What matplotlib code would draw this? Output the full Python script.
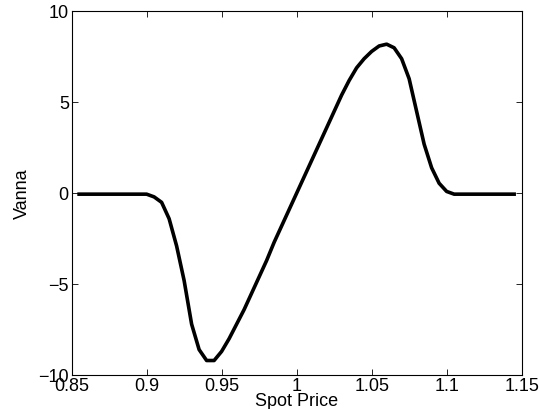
import matplotlib
matplotlib.use("Agg")
import matplotlib.pyplot as plt
from matplotlib.ticker import FuncFormatter

spot = [0.855, 0.86, 0.865, 0.87, 0.875, 0.88, 0.885, 0.89, 0.895, 0.90,
        0.905, 0.91, 0.915, 0.92, 0.925, 0.93, 0.935, 0.94, 0.945, 0.95,
        0.955, 0.96, 0.965, 0.97, 0.975, 0.98, 0.985, 0.99, 0.995, 1.00,
        1.005, 1.01, 1.015, 1.02, 1.025, 1.03, 1.035, 1.04, 1.045, 1.05,
        1.055, 1.06, 1.065, 1.07, 1.075, 1.08, 1.085, 1.09, 1.095, 1.10,
        1.105, 1.11, 1.115, 1.12, 1.125, 1.13, 1.135, 1.14, 1.145]
vanna = [-0.05, -0.05, -0.05, -0.05, -0.05, -0.05, -0.05, -0.05, -0.05, -0.05,
         -0.2, -0.5, -1.4, -2.9, -4.8, -7.2, -8.6, -9.2, -9.2, -8.7,
         -8.0, -7.2, -6.4, -5.5, -4.6, -3.7, -2.7, -1.8, -0.9, 0.0,
         0.9, 1.8, 2.7, 3.6, 4.5, 5.4, 6.2, 6.9, 7.4, 7.8,
         8.1, 8.2, 8.0, 7.4, 6.3, 4.5, 2.7, 1.4, 0.55, 0.1,
         -0.05, -0.05, -0.05, -0.05, -0.05, -0.05, -0.05, -0.05, -0.05]

xticks = [0.85, 0.9, 0.95, 1.0, 1.05, 1.1, 1.15]
yticks = [-10, -5, 0, 5, 10]

plt.rcParams['font.family'] = ['Liberation Sans', 'DejaVu Sans']
plt.rcParams['font.size'] = 13

fig = plt.figure(figsize=(5.4, 4.09), dpi=100)
ax = fig.add_axes([0.1326, 0.083, 0.8334, 0.889])
ax.plot(spot, vanna, color='black', linewidth=2.6)

ax.set_xlim(0.85, 1.15)
ax.set_ylim(-10, 10)
ax.set_xticks(xticks)
ax.set_yticks(yticks)
ax.xaxis.set_major_formatter(FuncFormatter(lambda v, p: '%g' % v))
ax.yaxis.set_major_formatter(FuncFormatter(lambda v, p: ('%g' % v).replace('-', '\u2212')))
ax.tick_params(direction='in', top=True, right=True, length=4, width=0.6, pad=2)
for s in ax.spines.values():
    s.set_linewidth(0.8)

ax.set_xlabel('Spot Price', labelpad=-1)
ax.set_ylabel('Vanna', labelpad=5)

fig.savefig('out.png', dpi=100)
